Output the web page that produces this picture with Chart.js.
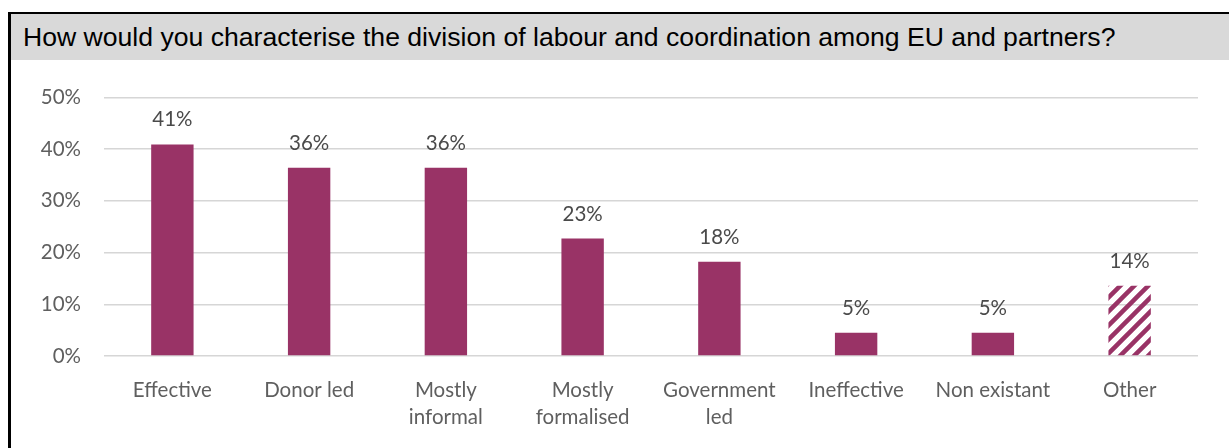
<!DOCTYPE html>
<html lang="en">
<head>
<meta charset="UTF-8">
<title>Division of labour</title>
<style>
  html, body { margin: 0; padding: 0; width: 1229px; height: 448px; overflow: hidden; background: #fff; }
  .Frame {
    position: absolute; left: 8px; top: 12px; width: 1300px; height: 500px;
    border-top: 2px solid #000; border-left: 3px solid #000; box-sizing: border-box;
  }
  .Titulo {
    position: absolute; left: 0; top: 0; right: 0; height: 46px; background: #d9d9d9;
    font-family: "Liberation Sans", Arial, sans-serif; font-size: 26.6px; color: #000;
    line-height: 46px; padding-left: 12px; white-space: nowrap;
  }
  #wrap { position: absolute; left: 0; top: 62px; width: 1229px; height: 386px; }
</style>
</head>
<body>
<div class="Frame">
  <div class="Titulo">How would you characterise the division of labour and coordination among EU and partners?</div>
</div>
<div id="wrap"><canvas id="myChart"></canvas></div>

<script src="https://cdn.jsdelivr.net/npm/chart.js"></script>
<script>
const categories = [["Effective"], ["Donor led"], ["Mostly", "informal"], ["Mostly", "formalised"],
                    ["Government", "led"], ["Ineffective"], ["Non existant"], ["Other"]];
const shares = [40.9, 36.4, 36.4, 22.7, 18.2, 4.5, 4.5, 13.6];
const yTicks = [0, 10, 20, 30, 40, 50];

const plum = '#993366';
const labelFont = { family: 'Lato', size: 20.5 };

// diagonal stripes for the "Other" bar
function stripes() {
  const s = 14;
  const c = document.createElement('canvas');
  c.width = s; c.height = s;
  const g = c.getContext('2d');
  g.strokeStyle = plum;
  g.lineWidth = 4.5;
  g.beginPath();
  g.moveTo(-s, 2 * s); g.lineTo(2 * s, -s);
  g.moveTo(-s, s); g.lineTo(s, -s);
  g.moveTo(0, 2 * s); g.lineTo(2 * s, 0);
  g.stroke();
  return g.createPattern(c, 'repeat');
}

const ctx = document.getElementById('myChart');
const colors = shares.map((v, i) => i === shares.length - 1 ? stripes() : plum);

// percentage labels above each bar
const valueLabels = {
  id: 'valueLabels',
  afterDatasetsDraw(chart) {
    const g = chart.ctx;
    const meta = chart.getDatasetMeta(0);
    g.save();
    g.font = labelFont.size + 'px ' + labelFont.family;
    g.fillStyle = '#4a4a4a';
    g.textAlign = 'center';
    g.textBaseline = 'alphabetic';
    meta.data.forEach((bar, i) => {
      g.fillText(Math.round(shares[i]) + '%', bar.x, bar.y - 18);
    });
    g.restore();
  }
};

new Chart(ctx, {
  type: 'bar',
  data: {
    labels: categories,
    datasets: [{
      data: shares,
      backgroundColor: colors,
      borderWidth: 0,
      categoryPercentage: 1,
      barPercentage: 0.31
    }]
  },
  options: {
    responsive: true,
    maintainAspectRatio: false,
    animation: false,
    layout: { padding: { left: 0, right: 31, top: 35, bottom: 0 } },
    scales: {
      x: {
        grid: { display: false },
        border: { display: false },
        ticks: { color: '#5f5f5f', font: { ...labelFont, lineHeight: 1.36 }, padding: 12, maxRotation: 0, autoSkip: false },
        afterFit(scale) { scale.height = 92; }
      },
      y: {
        min: 0, max: 50,
        afterBuildTicks(scale) { scale.ticks = yTicks.map(v => ({ value: v })); },
        grid: { color: '#d6d6d6', lineWidth: 1.5, drawTicks: false },
        border: { display: false },
        ticks: { color: '#5f5f5f', font: labelFont, padding: 23, callback: v => v + '%' },
        afterFit(scale) { scale.width = 104; }
      }
    },
    plugins: {
      legend: { display: false },
      tooltip: { enabled: false }
    }
  },
  plugins: [valueLabels]
});
</script>
</body>
</html>
